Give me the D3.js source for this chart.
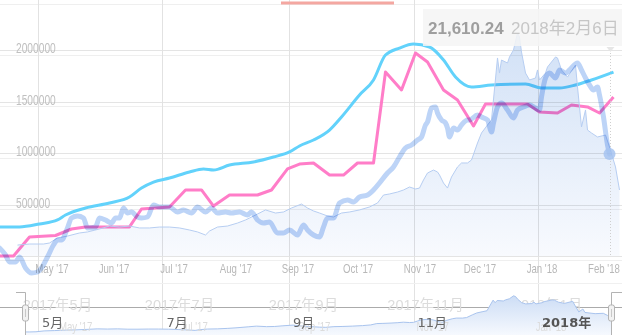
<!DOCTYPE html>
<html>
<head>
<meta charset="utf-8">
<script src="https://cdn.jsdelivr.net/npm/d3@7"></script>
<style>
  body { margin: 0; background: #fff; }
  svg { display: block; }
</style>
</head>
<body>
<svg id="chart" width="622" height="335"></svg>
<script>
// ---- data ----
var cyanDates = ["2017-04-05","2017-04-15","2017-04-25","2017-05-04","2017-05-08","2017-05-18","2017-05-30","2017-06-09","2017-06-15","2017-06-21","2017-06-29","2017-07-09","2017-07-16","2017-07-21","2017-07-29","2017-08-10","2017-08-20","2017-08-28","2017-09-02","2017-09-09","2017-09-17","2017-09-23","2017-10-02","2017-10-09","2017-10-15","2017-10-22","2017-10-29","2017-11-06","2017-11-13","2017-11-19","2017-11-27","2017-12-07","2017-12-24","2018-01-01","2018-01-10","2018-01-18","2018-01-26","2018-02-06"];
var cyanValues = [282000,282000,311000,350000,398000,466000,515000,573000,660000,718000,757000,816000,845000,835000,883000,913000,961000,1010000,1068000,1126000,1223000,1350000,1563000,1709000,1951000,2019000,2058000,2029000,1903000,1738000,1641000,1660000,1670000,1631000,1631000,1660000,1709000,1786000];

var pinkDates = ["2017-04-05","2017-04-12","2017-04-20","2017-05-03","2017-05-11","2017-05-18","2017-06-09","2017-06-15","2017-06-29","2017-07-07","2017-07-15","2017-07-21","2017-07-29","2017-08-12","2017-08-19","2017-08-27","2017-09-02","2017-09-09","2017-09-17","2017-09-24","2017-10-01","2017-10-09","2017-10-15","2017-10-23","2017-10-30","2017-11-05","2017-11-13","2017-11-20","2017-11-28","2017-12-04","2017-12-25","2017-12-31","2018-01-09","2018-01-16","2018-01-24","2018-01-30","2018-02-06"];
var pinkValues = [0,0,184000,199000,262000,282000,282000,456000,476000,641000,641000,485000,592000,592000,641000,845000,893000,903000,786000,786000,903000,903000,1786000,1612000,1971000,1884000,1612000,1515000,1262000,1476000,1476000,1398000,1388000,1466000,1447000,1388000,1544000];

var priceDates = ["2017-04-14","2017-04-20","2017-04-27","2017-04-30","2017-05-04","2017-05-09","2017-05-15","2017-05-19","2017-05-25","2017-05-30",
  "2017-06-04","2017-06-09","2017-06-14","2017-06-19","2017-06-24","2017-06-29","2017-07-04","2017-07-09","2017-07-13","2017-07-17",
  "2017-07-19","2017-07-23","2017-07-28","2017-08-02","2017-08-06","2017-08-08","2017-08-12","2017-08-16","2017-08-21","2017-08-25",
  "2017-08-29","2017-09-03","2017-09-06","2017-09-09","2017-09-12","2017-09-16","2017-09-19","2017-09-23","2017-09-27","2017-10-02",
  "2017-10-07","2017-10-11","2017-10-14","2017-10-17","2017-10-21","2017-10-24","2017-10-27","2017-10-30","2017-11-01","2017-11-03",
  "2017-11-05","2017-11-08","2017-11-10","2017-11-11","2017-11-13","2017-11-15","2017-11-17","2017-11-20","2017-11-22","2017-11-25",
  "2017-11-27","2017-11-30","2017-12-02","2017-12-05","2017-12-07","2017-12-10","2017-12-11","2017-12-12","2017-12-15","2017-12-16",
  "2017-12-18","2017-12-20","2017-12-21","2017-12-22","2017-12-24","2017-12-26","2017-12-29","2017-12-30","2017-12-31","2018-01-03",
  "2018-01-04","2018-01-08","2018-01-09","2018-01-11","2018-01-14","2018-01-18","2018-01-19","2018-01-21","2018-01-23","2018-01-24",
  "2018-01-26","2018-01-29","2018-02-02","2018-02-04","2018-02-07","2018-02-09"];
var priceValues = [960,1050,1050,1140,1580,1750,2020,2110,2370,2630,
  2540,2630,2460,2460,2540,2540,2460,2280,2110,1840,
  2190,2540,2630,2890,3160,3330,3680,4040,3770,3860,
  4210,4560,4210,3950,3770,3510,3420,3770,3860,4040,
  4300,4650,5350,5440,5610,5790,6050,5880,5960,6670,
  7280,7540,7370,7110,6400,5960,6930,7810,8160,8160,
  8420,9910,10790,11490,11930,17370,16050,17190,16930,17460,
  18070,19560,19210,17890,16050,15440,15610,16320,15440,16050,
  16580,17460,17370,16320,15700,16750,14820,11320,12810,11050,
  10790,10440,10610,9560,7810,5790];

var indexDates = ["2017-04-05","2017-04-08","2017-04-10","2017-04-13","2017-04-15","2017-04-18","2017-04-21","2017-04-24","2017-04-26","2017-04-29",
  "2017-05-02","2017-05-04","2017-05-06","2017-05-09","2017-05-11","2017-05-14","2017-05-17","2017-05-19","2017-05-23","2017-05-25",
  "2017-05-28","2017-05-31","2017-06-02","2017-06-04","2017-06-06","2017-06-08","2017-06-10","2017-06-13","2017-06-15","2017-06-18",
  "2017-06-21","2017-06-24","2017-06-29","2017-07-03","2017-07-06","2017-07-10","2017-07-13","2017-07-17","2017-07-20","2017-07-23",
  "2017-07-27","2017-07-30","2017-08-03","2017-08-07","2017-08-09","2017-08-12","2017-08-15","2017-08-18","2017-08-22","2017-08-25",
  "2017-08-28","2017-09-01","2017-09-04","2017-09-06","2017-09-09","2017-09-12","2017-09-14","2017-09-16","2017-09-19","2017-09-22",
  "2017-09-26","2017-09-29","2017-10-02","2017-10-06","2017-10-09","2017-10-12","2017-10-16","2017-10-19","2017-10-22","2017-10-25",
  "2017-10-28","2017-10-31","2017-11-02","2017-11-04","2017-11-05","2017-11-07","2017-11-09","2017-11-10","2017-11-12","2017-11-14",
  "2017-11-15","2017-11-16","2017-11-18","2017-11-20","2017-11-22","2017-11-25","2017-11-26","2017-11-30","2017-12-02","2017-12-05",
  "2017-12-07","2017-12-08","2017-12-10","2017-12-12","2017-12-15","2017-12-18","2017-12-20","2017-12-23","2017-12-26","2017-12-29",
  "2017-12-31","2018-01-01","2018-01-03","2018-01-05","2018-01-08","2018-01-10","2018-01-13","2018-01-15","2018-01-19","2018-01-21",
  "2018-01-23","2018-01-25","2018-01-27","2018-01-29","2018-01-30","2018-02-01","2018-02-03","2018-02-04"];
var indexValues = [12.8,10.0,7.2,7.2,9.2,4.8,2.8,3.2,4.8,9.2,
  14.0,16.0,16.0,20.8,24.8,25.6,24.8,20.8,21.2,24.8,
  24.0,22.8,24.8,24.8,28.8,26.8,27.2,25.2,24.8,25.2,
  30.0,29.2,29.2,27.2,28.0,26.8,29.2,27.2,28.8,26.8,
  27.2,26.8,27.2,26.0,27.2,24.0,22.8,23.2,18.8,18.8,
  20.0,18.0,22.0,20.0,18.0,17.2,21.2,24.8,24.8,30.8,
  32.0,31.2,33.2,34.0,36.0,38.8,42.8,45.2,49.2,52.8,
  54.0,56.0,57.2,62.0,63.2,68.8,69.2,66.8,64.0,62.8,
  60.8,57.2,60.8,60.0,62.0,64.0,64.0,66.0,65.2,64.0,
  59.2,62.8,69.2,70.8,68.0,64.8,68.0,69.2,70.0,68.8,
  68.0,73.2,80.8,82.8,80.8,84.0,82.8,84.0,86.8,84.0,
  80.8,78.0,76.0,77.2,74.0,65.2,54.0,50.4];

var yTicks = [500000, 1000000, 1500000, 2000000];
var gridValues = [0, 500000, 1000000, 1500000, 2000000];
var ghostGridValues = [0, 500000, 1000000, 1500000, 2000000, 2500000];
var monthTicks = ["2017-05-01","2017-06-01","2017-07-01","2017-08-01","2017-09-01","2017-10-01","2017-11-01","2017-12-01","2018-01-01","2018-02-01"];
var navTicks = ["2017-05-01","2017-07-01","2017-09-01","2017-11-01","2018-01-01"];
var tooltipValue = "21,610.24";
var tooltipDate = "2018年2月6日";

// ---- scales ----
var parse = d3.timeParse("%Y-%m-%d");
function zip(ds, vs) { return ds.map(function (d, i) { return { date: parse(d), value: vs[i] }; }); }
var cyan = zip(cyanDates, cyanValues);
var pink = zip(pinkDates, pinkValues);
var price = zip(priceDates, priceValues);
var index = zip(indexDates, indexValues);

var x = d3.scaleTime().domain([parse("2017-05-01"), parse("2018-02-01")]).range([51.5, 603.5]);
var xNav = d3.scaleTime().domain([parse("2017-05-01"), parse("2018-01-01")]).range([38, 538]);
var xNavGhost = d3.scaleTime().domain([parse("2017-07-01"), parse("2018-01-01")]).range([194, 551]);
var y = d3.scaleLinear().domain([0, 2000000]).range([256, 50]);
var yGhost = d3.scaleLinear().domain([0, 2500000]).range([260, 4]);
var yPrice = d3.scaleLinear().domain([0, 20000]).range([256, 28]);
var yIndex = d3.scaleLinear().domain([0, 100]).range([280, 30]);
var yNav = d3.scaleLinear().domain([0, 20000]).range([334, 295]);

var thinFont = "'Liberation Sans', 'DejaVu Sans', sans-serif";
var cjkFont = "'Liberation Sans', 'Noto Sans CJK SC', sans-serif";

var svg = d3.select("#chart");
var defs = svg.append("defs");

var g1 = defs.append("linearGradient").attr("id", "areaGrad")
  .attr("gradientUnits", "userSpaceOnUse").attr("x1", 0).attr("x2", 0).attr("y1", 28).attr("y2", 256);
g1.append("stop").attr("offset", 0).attr("stop-color", "#d0e0f6");
g1.append("stop").attr("offset", 1).attr("stop-color", "#f8fafe");

var g2 = defs.append("linearGradient").attr("id", "navGrad")
  .attr("gradientUnits", "userSpaceOnUse").attr("x1", 0).attr("x2", 0).attr("y1", 294).attr("y2", 335);
g2.append("stop").attr("offset", 0).attr("stop-color", "#cbdcf5");
g2.append("stop").attr("offset", 1).attr("stop-color", "#f6f9fe");

defs.append("clipPath").attr("id", "navClip").append("rect")
  .attr("x", 25).attr("y", 285).attr("width", 587).attr("height", 50);

// ---- grid ----
svg.append("g").selectAll("line").data(ghostGridValues).enter().append("line")
  .attr("x1", 0).attr("x2", 622)
  .attr("y1", function (d) { return Math.round(yGhost(d)) + 0.5; })
  .attr("y2", function (d) { return Math.round(yGhost(d)) + 0.5; })
  .attr("stroke", "#efefef");

svg.append("g").selectAll("line").data(gridValues).enter().append("line")
  .attr("x1", 0).attr("x2", 622)
  .attr("y1", function (d) { return Math.round(y(d)) + 0.5; })
  .attr("y2", function (d) { return Math.round(y(d)) + 0.5; })
  .attr("stroke", "#e4e4e4");

svg.append("g").selectAll("line").data(navTicks).enter().append("line")
  .attr("x1", function (d) { return Math.round(xNav(parse(d))) + 0.5; })
  .attr("x2", function (d) { return Math.round(xNav(parse(d))) + 0.5; })
  .attr("y1", 0).attr("y2", 335)
  .attr("stroke", "#e2e2e2");

svg.append("line").attr("x1", 0).attr("x2", 622).attr("y1", 283.5).attr("y2", 283.5).attr("stroke", "#f0f0f0");

// range selector underline at the top
svg.append("rect").attr("x", 281).attr("y", 1.5).attr("width", 113).attr("height", 3).attr("fill", "#f4a7a1");

// ---- y labels (condensed look) ----
svg.append("g").selectAll("g").data(yTicks).enter().append("g")
  .attr("transform", function (d) { return "translate(16," + (y(d) + 3) + ")"; })
  .append("text").attr("transform", "scale(0.73,1)")
  .attr("font-family", thinFont).attr("font-size", 14).attr("fill", "#c0c0c0")
  .text(function (d) { return d3.format("d")(d); });

// ---- main x axis ----
var xAxis = svg.append("g").attr("transform", "translate(0,256)")
  .call(d3.axisBottom(x).tickValues(monthTicks.map(parse))
    .tickFormat(d3.timeFormat("%b '%y")).tickSize(0).tickPadding(8));
xAxis.select(".domain").remove();
xAxis.selectAll("text").attr("font-size", 12.5).attr("fill", "#b8b8b8")
  .attr("font-family", thinFont).attr("transform", "scale(0.77,1)");

// ---- series ----
var lineCyan = d3.line().x(function (d) { return x(d.date); }).y(function (d) { return y(d.value); }).curve(d3.curveMonotoneX);
var linePink = d3.line().x(function (d) { return x(d.date); }).y(function (d) { return y(d.value); });
var linePrice = d3.line().x(function (d) { return x(d.date); }).y(function (d) { return yPrice(d.value); });
var areaPrice = d3.area().x(function (d) { return x(d.date); }).y0(yPrice(0)).y1(function (d) { return yPrice(d.value); });
var lineIndex = d3.line().x(function (d) { return x(d.date); }).y(function (d) { return yIndex(d.value); }).curve(d3.curveMonotoneX);

svg.append("path").datum(cyan).attr("d", lineCyan)
  .attr("fill", "none").attr("stroke", "#62d2fb").attr("stroke-width", 3).attr("stroke-linejoin", "round");
svg.append("path").datum(pink).attr("d", linePink)
  .attr("fill", "none").attr("stroke", "#ff7dc8").attr("stroke-width", 3).attr("stroke-linejoin", "round");

svg.append("path").datum(price).attr("d", areaPrice)
  .attr("fill", "url(#areaGrad)").style("mix-blend-mode", "multiply");
svg.append("path").datum(price).attr("d", linePrice)
  .attr("fill", "none").attr("stroke", "#b7cef2").attr("stroke-width", 1);

svg.append("path").datum(index).attr("d", lineIndex)
  .attr("fill", "none").attr("stroke", "#bdd4f7").attr("stroke-width", 5)
  .attr("stroke-linejoin", "round").attr("stroke-linecap", "round")
  .style("mix-blend-mode", "multiply");

// ---- focus / tooltip ----
var last = index[index.length - 1];
var fx = Math.round(x(last.date)) + 0.5;
svg.append("line").attr("x1", fx).attr("x2", fx).attr("y1", 50).attr("y2", 256)
  .attr("stroke", "#cfcfcf").attr("stroke-dasharray", "1,2");
svg.append("circle").attr("cx", x(last.date)).attr("cy", yIndex(last.value)).attr("r", 6)
  .attr("fill", "#a6c3f0").attr("opacity", 0.85);

svg.append("rect").attr("x", 423).attr("y", 9).attr("width", 210).attr("height", 37)
  .attr("fill", "#f4f4f4").attr("opacity", 0.85);
svg.append("path").attr("d", "M" + (fx - 4) + ",47 L" + (fx + 4) + ",47 L" + fx + ",52 Z").attr("fill", "#e6e6e6");
svg.append("text").attr("x", 428).attr("y", 34)
  .attr("font-family", cjkFont).attr("font-size", 17)
  .attr("font-weight", "bold").attr("fill", "#9e9e9e").text(tooltipValue);
svg.append("text").attr("x", 511).attr("y", 34)
  .attr("font-family", cjkFont).attr("font-size", 17)
  .attr("fill", "#c6c6c6").text(tooltipDate);

// ---- navigator ----
svg.append("line").attr("x1", 0).attr("x2", 622).attr("y1", 307.5).attr("y2", 307.5).attr("stroke", "#ababab");

svg.append("g").selectAll("text").data(navTicks).enter().append("text")
  .attr("x", function (d) { return x(parse(d)) + 6; }).attr("y", 310)
  .attr("text-anchor", "middle").attr("font-size", 14.5).attr("fill", "#dcdcdc")
  .attr("font-family", cjkFont)
  .text(function (d) { return d3.timeFormat("%Y年%-m月")(parse(d)); });

var navArea = d3.area().x(function (d) { return xNav(d.date); }).y0(335).y1(function (d) { return yNav(d.value); });
var navLine = d3.line().x(function (d) { return xNav(d.date); }).y(function (d) { return yNav(d.value); });
var nav = svg.append("g").attr("clip-path", "url(#navClip)");
nav.append("path").datum(price).attr("d", navArea).attr("fill", "url(#navGrad)");
nav.append("path").datum(price).attr("d", navLine).attr("fill", "none").attr("stroke", "#a9c4ee").attr("stroke-width", 1);

svg.append("g").selectAll("g").data(navTicks).enter().append("g")
  .attr("transform", function (d) { return "translate(" + xNavGhost(parse(d)) + ",331)"; })
  .append("text").attr("transform", "scale(0.77,1)")
  .attr("text-anchor", "middle").attr("font-size", 12.5).attr("fill", "#dcdcdc")
  .attr("font-family", thinFont)
  .text(function (d) { return d3.timeFormat("%b '%y")(parse(d)); });

svg.append("g").selectAll("text").data(navTicks).enter().append("text")
  .attr("x", function (d) { return xNav(parse(d)) + 4; }).attr("y", 327)
  .attr("font-family", "'DejaVu Sans', 'Noto Sans CJK SC', sans-serif").attr("font-size", 13)
  .attr("font-weight", function (d) { return parse(d).getMonth() === 0 ? "bold" : "normal"; })
  .attr("fill", function (d) { return parse(d).getMonth() === 0 ? "#555" : "#666"; })
  .text(function (d) { var t = parse(d); return t.getMonth() === 0 ? d3.timeFormat("%Y年")(t) : d3.timeFormat("%-m月")(t); });

// navigator outline + handles
svg.append("path").attr("d", "M16,292.5H25.5V335").attr("fill", "none").attr("stroke", "#b3b3b3");
svg.append("path").attr("d", "M622,292.5H611.5V335").attr("fill", "none").attr("stroke", "#b3b3b3");
[25.5, 611.5].forEach(function (hx) {
  svg.append("rect").attr("x", hx - 3).attr("y", 305).attr("width", 6).attr("height", 16).attr("rx", 2)
    .attr("fill", "#f2f2f2").attr("stroke", "#b3b3b3");
  svg.append("line").attr("x1", hx).attr("x2", hx).attr("y1", 309).attr("y2", 317).attr("stroke", "#c8c8c8");
});
</script>
</body>
</html>
